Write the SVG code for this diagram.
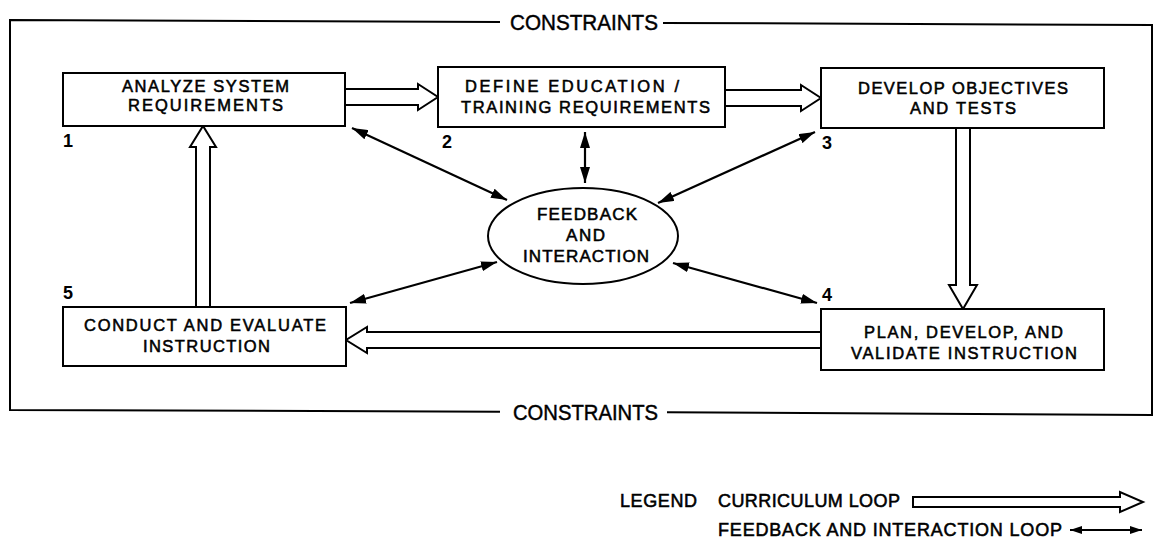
<svg xmlns="http://www.w3.org/2000/svg" width="1155" height="538" viewBox="0 0 1155 538">
<style>
  .bg{fill:#fff}
  .box{fill:#fff;stroke:#000;stroke-width:2}
  .frame{fill:none;stroke:#000;stroke-width:2}
  .t{font-family:"Liberation Sans",Arial,sans-serif;font-size:16.5px;fill:#000;stroke:#000;stroke-width:0.55}
  .e{font-size:17px}
  .lg{font-size:18px}
  .num{font-family:"Liberation Sans",Arial,sans-serif;font-size:18px;font-weight:bold;fill:#000}
  .con{font-family:"Liberation Sans",Arial,sans-serif;font-size:22px;fill:#000;stroke:#000;stroke-width:0.45}
  .cur{fill:#fff;stroke:#000;stroke-width:2;stroke-linejoin:miter}
  .fb{fill:none;stroke:#000;stroke-width:2.2}
</style>
<defs>
  <marker id="ah" markerUnits="userSpaceOnUse" markerWidth="17" markerHeight="10" refX="16" refY="5" orient="auto-start-reverse">
    <path d="M0,0 L16,5 L0,10 Z" fill="#000"/>
  </marker>
  <marker id="ahs" markerUnits="userSpaceOnUse" markerWidth="13" markerHeight="8" refX="12" refY="4" orient="auto-start-reverse">
    <path d="M0,0 L12,4 L0,8 Z" fill="#000"/>
  </marker>
</defs>
<rect class="bg" x="0" y="0" width="1155" height="538"/>

<g id="frame">
  <path class="frame" d="M500,22 L10,20 L10,410 L500,411.7"/>
  <path class="frame" d="M663,22.9 L1152,25 L1152,415 L667,412.3"/>
  <text class="con" x="510" y="30" textLength="148" lengthAdjust="spacingAndGlyphs">CONSTRAINTS</text>
  <text class="con" x="513" y="420" textLength="145" lengthAdjust="spacingAndGlyphs">CONSTRAINTS</text>
</g>

<g id="connectors">
  <!-- curriculum loop (hollow double arrows) -->
  <path class="cur" d="M346,89 H418 V84 L438,97 L418,110 V105 H346"/>
  <path class="cur" d="M725,90 H801 V85 L821,98 L801,111 V106 H725"/>
  <path class="cur" d="M956,128 V285 H949 L963,309 L977,285 H970 V128"/>
  <path class="cur" d="M821,332 H367 V327 L346,340 L367,353 V348 H821"/>
  <path class="cur" d="M196,307 V147 H190 L203,126 L216,147 H210 V307"/>
  <!-- feedback and interaction loop -->
  <line class="fb" x1="352" y1="128" x2="507" y2="200" marker-start="url(#ah)" marker-end="url(#ah)"/>
  <line class="fb" x1="585" y1="132" x2="585" y2="183" marker-start="url(#ah)" marker-end="url(#ah)"/>
  <line class="fb" x1="815" y1="132" x2="658" y2="203" marker-start="url(#ah)" marker-end="url(#ah)"/>
  <line class="fb" x1="350" y1="303" x2="497" y2="262" marker-start="url(#ah)" marker-end="url(#ah)"/>
  <line class="fb" x1="673" y1="263" x2="817" y2="303" marker-start="url(#ah)" marker-end="url(#ah)"/>
</g>

<g id="node1">
  <rect class="box" x="63" y="73" width="282" height="53"/>
  <text class="t" x="122" y="92" textLength="167" lengthAdjust="spacing">ANALYZE SYSTEM</text>
  <text class="t" x="128" y="111" textLength="155" lengthAdjust="spacing">REQUIREMENTS</text>
  <text class="num" x="63" y="147">1</text>
</g>
<g id="node2">
  <rect class="box" x="438" y="67" width="287" height="60"/>
  <text class="t" x="465" y="92" textLength="214" lengthAdjust="spacing">DEFINE EDUCATION /</text>
  <text class="t" x="461" y="113" textLength="249" lengthAdjust="spacing">TRAINING REQUIREMENTS</text>
  <text class="num" x="442" y="148">2</text>
</g>
<g id="node3">
  <rect class="box" x="821" y="68" width="283" height="60"/>
  <text class="t" x="858" y="94" textLength="210" lengthAdjust="spacing">DEVELOP OBJECTIVES</text>
  <text class="t" x="910" y="114" textLength="106" lengthAdjust="spacing">AND TESTS</text>
  <text class="num" x="822" y="149">3</text>
</g>
<g id="node4">
  <rect class="box" x="821" y="309" width="283" height="61"/>
  <text class="t" x="864" y="338" textLength="199" lengthAdjust="spacing">PLAN, DEVELOP, AND</text>
  <text class="t" x="851" y="359" textLength="226" lengthAdjust="spacing">VALIDATE INSTRUCTION</text>
  <text class="num" x="822" y="301">4</text>
</g>
<g id="node5">
  <rect class="box" x="63" y="307" width="283" height="59"/>
  <text class="t" x="84" y="331" textLength="242" lengthAdjust="spacing">CONDUCT AND EVALUATE</text>
  <text class="t" x="143" y="352" textLength="127" lengthAdjust="spacing">INSTRUCTION</text>
  <text class="num" x="63" y="299">5</text>
</g>
<g id="feedback">
  <ellipse class="box" cx="583" cy="236" rx="95" ry="48"/>
  <text class="t e" x="537" y="220" textLength="100" lengthAdjust="spacing">FEEDBACK</text>
  <text class="t e" x="566" y="241" textLength="39" lengthAdjust="spacing">AND</text>
  <text class="t e" x="523" y="262" textLength="126" lengthAdjust="spacing">INTERACTION</text>
</g>

<g id="legend">
  <text class="t lg" x="620" y="507" textLength="77" lengthAdjust="spacing">LEGEND</text>
  <text class="t lg" x="718" y="507" textLength="182" lengthAdjust="spacing">CURRICULUM LOOP</text>
  <text class="t lg" x="718" y="536" textLength="344" lengthAdjust="spacing">FEEDBACK AND INTERACTION LOOP</text>
  <path class="cur" d="M913,497 H1120 V492 L1143,502 L1120,512 V507 H913 Z"/>
  <line class="fb" x1="1070" y1="530" x2="1142" y2="530" marker-start="url(#ahs)" marker-end="url(#ahs)"/>
</g>
</svg>
